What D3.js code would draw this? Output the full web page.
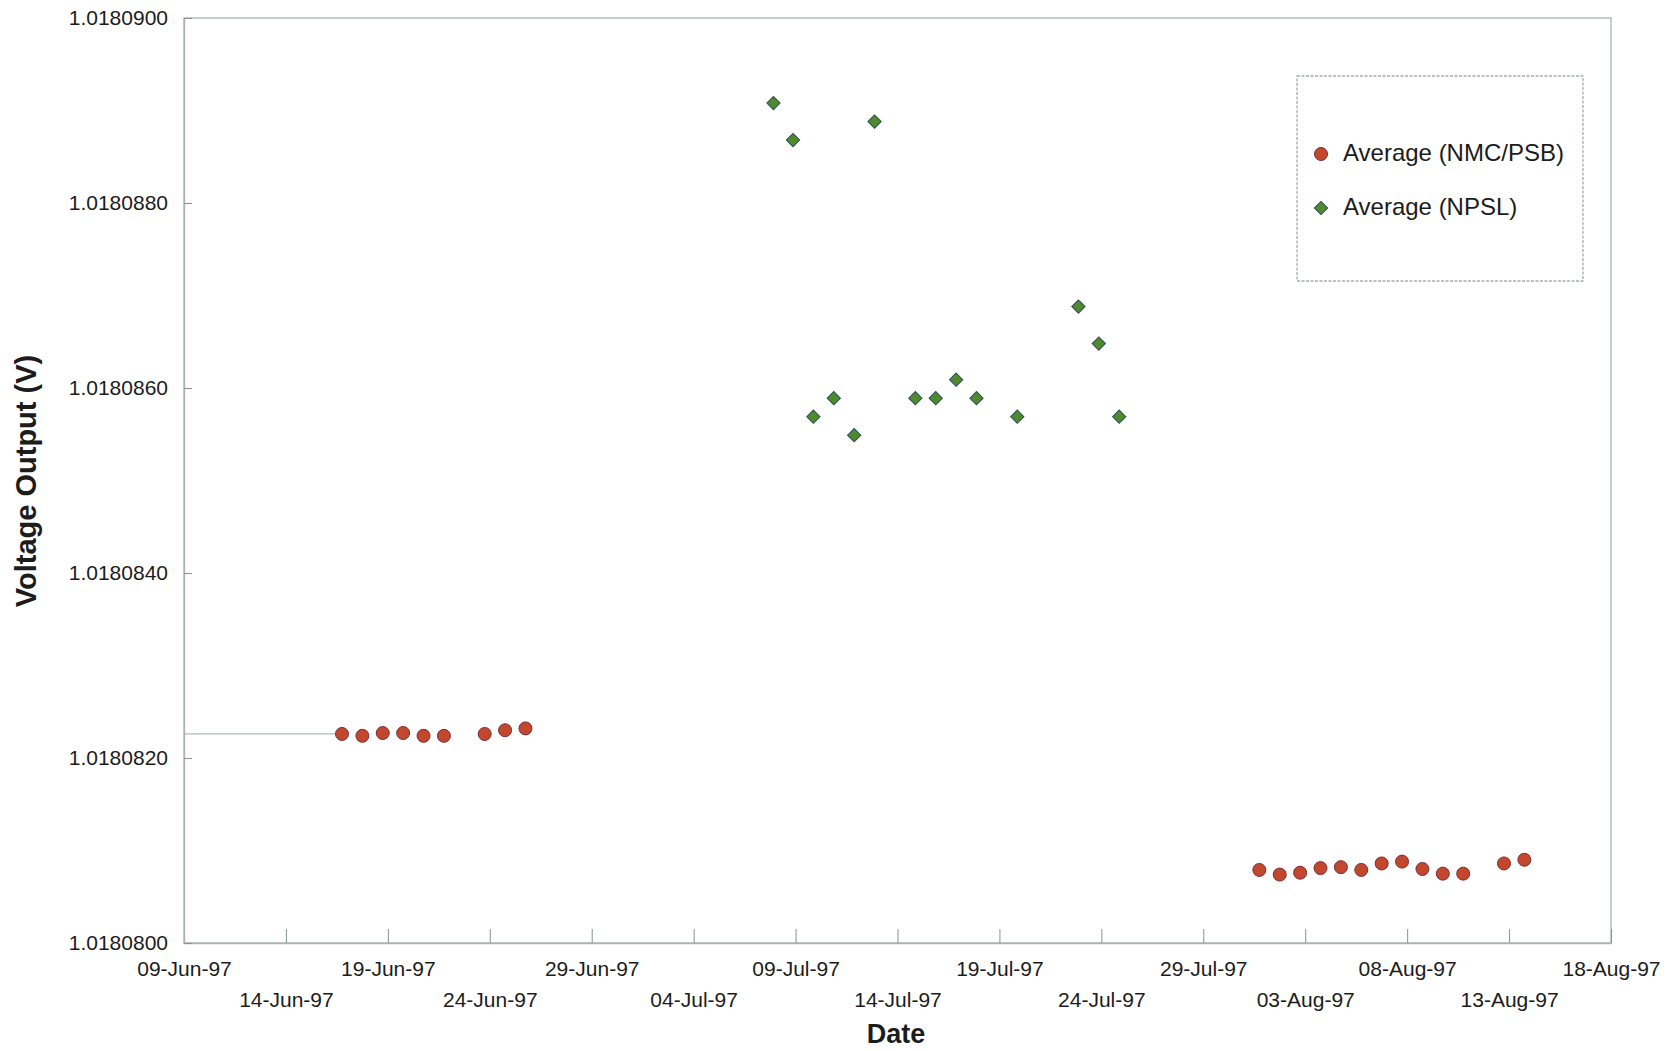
<!DOCTYPE html>
<html>
<head>
<meta charset="utf-8">
<script src="https://cdn.jsdelivr.net/npm/d3@7"></script>
<style>
  body { margin: 0; background: #fff; }
  text { font-family: "Liberation Sans", Arial, sans-serif; fill: #1c1c1c; }
</style>
</head>
<body>
<div id="chart"></div>
<script>
// NMC/PSB averages (measured late afternoon)
var nmcDates = ["1997-06-16 18:00","1997-06-17 18:00","1997-06-18 18:00","1997-06-19 18:00","1997-06-20 18:00","1997-06-21 18:00",
  "1997-06-23 18:00","1997-06-24 18:00","1997-06-25 18:00",
  "1997-07-31 18:00","1997-08-01 18:00","1997-08-02 18:00","1997-08-03 18:00","1997-08-04 18:00","1997-08-05 18:00",
  "1997-08-06 18:00","1997-08-07 18:00","1997-08-08 18:00","1997-08-09 18:00","1997-08-10 18:00",
  "1997-08-12 18:00","1997-08-13 18:00"]
var nmcValues = [1.01808226,1.01808224,1.01808227,1.01808227,1.01808224,1.01808224,
  1.01808226,1.01808230,1.01808232,
  1.01808079,1.01808074,1.01808076,1.01808081,1.01808082,1.01808079,
  1.01808086,1.01808088,1.01808080,1.01808075,1.01808075,
  1.01808086,1.01808090]

// NPSL averages
var npslDates = ["1997-07-07 22:00","1997-07-08 21:00","1997-07-09 21:00","1997-07-10 21:00","1997-07-11 21:00","1997-07-12 21:00",
  "1997-07-14 21:00","1997-07-15 21:00","1997-07-16 21:00","1997-07-17 21:00","1997-07-19 21:00",
  "1997-07-22 21:00","1997-07-23 21:00","1997-07-24 21:00"]
var npslValues = [1.01808908,1.01808868,1.01808569,1.01808589,1.01808549,1.01808888,
  1.01808589,1.01808589,1.01808609,1.01808589,1.01808569,
  1.01808688,1.01808648,1.01808569]

var yTicks = [1.01808, 1.018082, 1.018084, 1.018086, 1.018088, 1.01809]
var legendLabels = ["Average (NMC/PSB)", "Average (NPSL)"]

var W = 1670, H = 1051
var margin = {top: 18, right: 59, bottom: 108, left: 184},
    width = W - margin.left - margin.right,
    height = H - margin.top - margin.bottom

var parse = d3.timeParse("%Y-%m-%d %H:%M")
var fmt = d3.timeFormat("%d-%b-%y")

var svg = d3.select("#chart").append("svg")
    .attr("width", W)
    .attr("height", H)

var g = svg.append("g")
    .attr("transform", "translate(" + margin.left + "," + margin.top + ")")

var x = d3.scaleTime()
    .domain([parse("1997-06-09 00:00"), parse("1997-08-18 00:00")])
    .range([0, width])

var y = d3.scaleLinear()
    .domain([1.01808, 1.01809])
    .range([height, 0])

// plot frame
g.append("rect")
    .attr("width", width).attr("height", height)
    .style("fill", "none")
    .style("stroke", "#aab2b2")
    .style("stroke-width", 1.3)

// x axis, a tick every 5 days from the start, labels staggered on two rows
var xTicks = d3.timeDay.range(x.domain()[0], d3.timeDay.offset(x.domain()[1], 1), 5)
var xAxis = g.append("g")
    .attr("transform", "translate(0," + height + ")")
    .call(d3.axisBottom(x).tickValues(xTicks).tickFormat(fmt).tickSizeInner(-14).tickSizeOuter(0))
xAxis.select(".domain").style("stroke", "#aab2b2").style("stroke-width", 1.3)
xAxis.selectAll(".tick line").style("stroke", "#8a9292")
xAxis.selectAll(".tick text")
    .attr("y", function(d, i) { return i % 2 == 0 ? 26 : 57 })
    .attr("dy", "0.35em")
    .style("font-size", "21px")
    .style("fill", "#1c1c1c")

// y axis
var yAxis = g.append("g")
    .call(d3.axisLeft(y).tickValues(yTicks).tickFormat(d3.format(".7f")).tickSizeInner(-8).tickSizeOuter(0).tickPadding(16))
yAxis.select(".domain").style("stroke", "#aab2b2").style("stroke-width", 1.3)
yAxis.selectAll(".tick line").style("stroke", "#8a9292")
yAxis.selectAll(".tick text")
    .style("font-size", "21px")
    .style("fill", "#1c1c1c")

// axis titles
svg.append("text").text("Date")
    .attr("x", 896).attr("y", 1043)
    .attr("text-anchor", "middle")
    .style("font-size", "27px").style("font-weight", "bold")
svg.append("text").text("Voltage Output (V)")
    .attr("transform", "translate(36,481) rotate(-90)")
    .attr("text-anchor", "middle")
    .style("font-size", "29px").style("font-weight", "bold")

// faint trace at the start of the first series
g.append("line")
    .attr("x1", 0).attr("x2", x(parse(nmcDates[0])) - 7)
    .attr("y1", y(nmcValues[0])).attr("y2", y(nmcValues[0]))
    .style("stroke", "#8e9aa8").style("stroke-width", 1.2).style("opacity", 0.7)

var nmc = nmcDates.map(function(d, i) { return {date: parse(d), value: nmcValues[i]} })
var npsl = npslDates.map(function(d, i) { return {date: parse(d), value: npslValues[i]} })

var redFill = "#c2472c", redStroke = "#7b2d3a"
var greenFill = "#4f8a2c", greenStroke = "#2e4f5c"
var diamond = d3.symbol().type(d3.symbolSquare).size(88)

g.append("g").selectAll("circle")
    .data(nmc)
  .enter().append("circle")
    .attr("cx", function(d) { return x(d.date) })
    .attr("cy", function(d) { return y(d.value) })
    .attr("r", 6.5)
    .style("fill", redFill)
    .style("stroke", redStroke)
    .style("stroke-width", 1)

g.append("g").selectAll("path")
    .data(npsl)
  .enter().append("path")
    .attr("d", diamond)
    .attr("transform", function(d) { return "translate(" + x(d.date) + "," + y(d.value) + ") rotate(45)" })
    .style("fill", greenFill)
    .style("stroke", greenStroke)
    .style("stroke-width", 1)

// legend
var lg = svg.append("g")
lg.append("rect")
    .attr("x", 1297).attr("y", 76).attr("width", 286).attr("height", 205)
    .style("fill", "#fff")
    .style("stroke", "#a6adad")
    .style("stroke-width", 1.3)
    .style("stroke-dasharray", "3,1.5")
lg.append("circle").attr("cx", 1321).attr("cy", 154).attr("r", 6.5)
    .style("fill", redFill).style("stroke", redStroke)
lg.append("path").attr("d", diamond)
    .attr("transform", "translate(1321,208) rotate(45)")
    .style("fill", greenFill).style("stroke", greenStroke)
lg.selectAll(".lbl")
    .data(legendLabels)
  .enter().append("text")
    .attr("class", "lbl")
    .attr("x", 1343)
    .attr("y", function(d, i) { return 153 + i * 54 })
    .attr("dy", "0.35em")
    .style("font-size", "24px")
    .text(function(d) { return d })
</script>
</body>
</html>
